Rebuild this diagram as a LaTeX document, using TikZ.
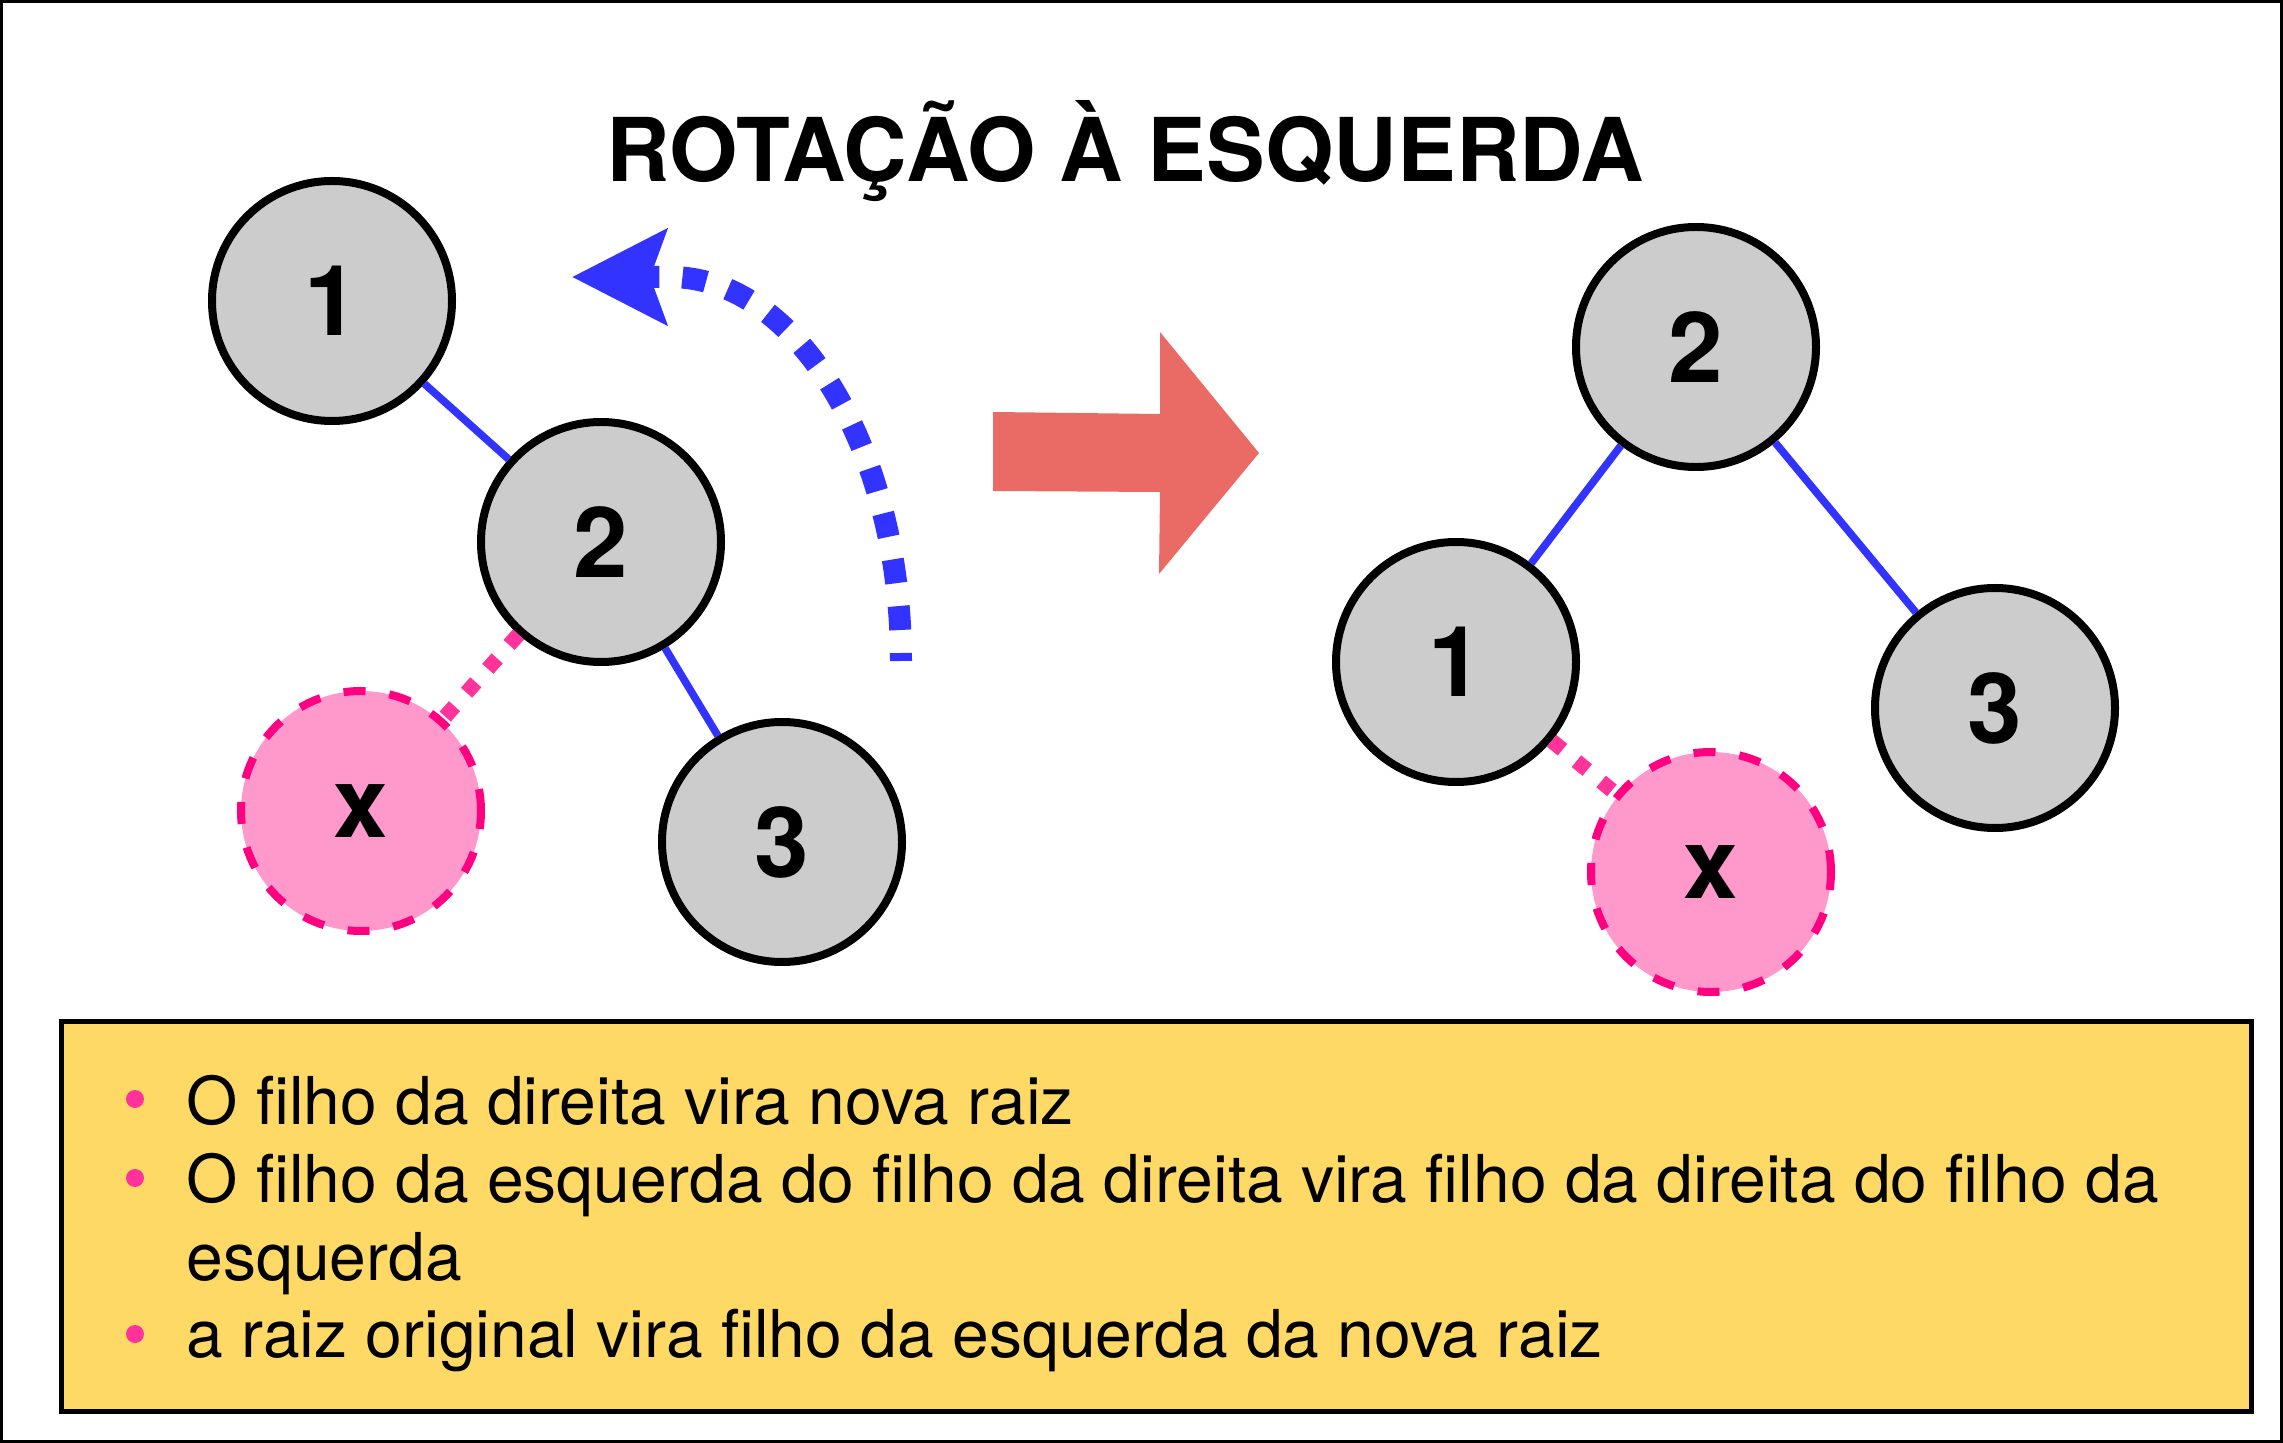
\documentclass[tikz,border=0pt]{standalone}
\usepackage{fontspec}
\setmainfont{TeX Gyre Heros}
\usetikzlibrary{arrows.meta}
\definecolor{edgeblue}{HTML}{3333FF}
\definecolor{linkpink}{HTML}{FF3399}
\definecolor{xborder}{HTML}{FF0080}
\definecolor{xfill}{HTML}{FF99CC}
\definecolor{nodegray}{HTML}{CCCCCC}
\definecolor{bigred}{HTML}{EA6B66}
\definecolor{noteyellow}{HTML}{FFD966}
\tikzset{
  treenode/.style={circle, draw=black, line width=4pt, fill=nodegray, minimum size=120pt, inner sep=0pt,
    font=\fontsize{49}{56}\selectfont\bfseries},
  xnode/.style={circle, draw=xborder, line width=4pt, dash pattern=on 11pt off 12pt, fill=xfill, minimum size=120pt, inner sep=0pt,
    font=\fontsize{49}{56}\selectfont\bfseries},
  bluelink/.style={draw=edgeblue, line width=3.8pt},
  pinklink/.style={draw=linkpink, line width=7.5pt, dash pattern=on 7pt off 9pt},
  rotarrow/.style={draw=edgeblue, line width=11pt, dash pattern=on 12pt off 11.5pt, dash phase=8pt,
    -{Stealth[length=47pt, width=47pt, inset=8pt]}},
  notetext/.style={anchor=base west, inner sep=0pt, font=\fontsize{33}{40}\selectfont},
  bulletdot/.style={circle, fill=linkpink, minimum size=9pt, inner sep=0pt}
}
\begin{document}
\begin{tikzpicture}[x=0.5pt, y=-0.5pt]
\useasboundingbox (0,0) rectangle (2283,1443);
\draw[line width=1.5pt] (1.5,1.5) rectangle (2281.5,1441.5);

% title
\node[anchor=base, inner sep=0pt, font=\fontsize{44}{50}\selectfont\bfseries] (title) at (1125,182) {ROTAÇÃO À ESQUERDA};

% left tree
\node[treenode] (l1) at (332,301) {1};
\node[treenode] (l2) at (601,542) {2};
\node[xnode]    (lx) at (361,811) {x};
\node[treenode] (l3) at (782,842) {3};
\draw[bluelink] (l1) -- (l2);
\draw[bluelink] (l2) -- (l3);
\draw[pinklink] (l2) -- (lx);

% curved rotation arrow
\coordinate (rotstart) at (901,661);
\coordinate (rotend) at (572,277);
\draw[rotarrow] (rotstart) .. controls (901,449) and (797,277) .. (670,277) -- (rotend);

% big red arrow
\fill[bigred] (993,412) -- (1160,414) -- (1160,332) -- (1259,453) -- (1159,574) -- (1160,492) -- (993,491) -- cycle;

% right tree
\node[treenode] (r2) at (1696,347) {2};
\node[treenode] (r1) at (1456,662) {1};
\node[treenode] (r3) at (1995,708) {3};
\draw[bluelink] (r2) -- (r1);
\draw[bluelink] (r2) -- (r3);
\draw[pinklink] (r1) -- (1711,872);
\node[xnode]    (rx) at (1711,872) {x};

% note box
\node[draw=black, line width=2.5pt, fill=noteyellow, minimum width=1095pt, minimum height=195pt, inner sep=0pt] (box) at (1156.5,1216) {};
\node[bulletdot] (b1) at (135,1099) {};
\node[bulletdot] (b2) at (135,1178) {};
\node[bulletdot] (b3) at (135,1334) {};
\node[notetext] (t1) at (186,1124) {O filho da direita vira nova raiz};
\node[notetext] (t2) at (186,1202) {O filho da esquerda do filho da direita vira filho da direita do filho da};
\node[notetext] (t2b) at (186,1280) {esquerda};
\node[notetext] (t3) at (186,1357) {a raiz original vira filho da esquerda da nova raiz};
\end{tikzpicture}
\end{document}
